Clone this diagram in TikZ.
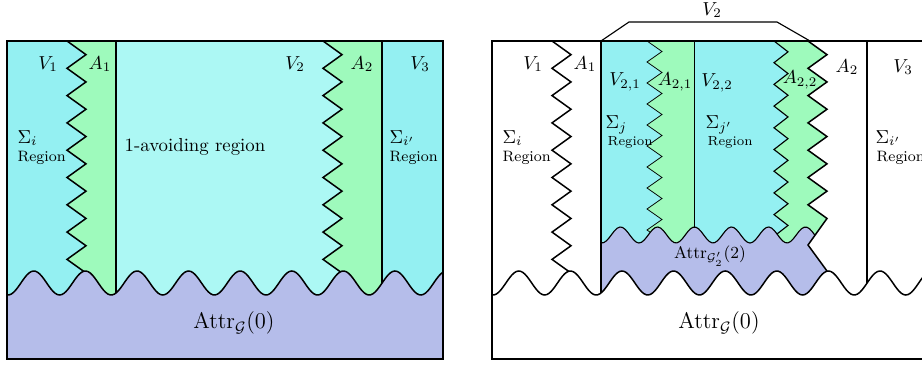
\documentclass[tikz,border=0pt]{standalone}
\usepackage{amsmath}
\usepackage{amssymb}
\usepackage{tikz}
\definecolor{vregion}{RGB}{148,240,242}
\definecolor{avoidregion}{RGB}{172,248,244}
\definecolor{aregion}{RGB}{158,250,188}
\definecolor{attrregion}{RGB}{181,189,234}
\newcommand{\vtwoshape}{(601,41) -- (808,41)
    \foreach \k in {0,...,5} { -- (827,{54.65+27.3*\k}) -- (808,{68.3+27.3*\k}) }
    -- (827,218.45) -- (808,245) -- (601,260) -- cycle}

\begin{document}
\begin{tikzpicture}[x=0.532pt, y=-0.532pt]
    \useasboundingbox (0,0) rectangle (922,367);

    % ===== Left panel =====
    % Regions
    \fill[vregion] (7,41) rectangle (443,359);
    \fill[aregion] (67,41) \foreach \k in {0,...,7} { -- (86,{54.65+27.3*\k}) -- (67,{68.3+27.3*\k}) }
        -- (86,273) -- (86,300) -- (116,300) -- (116,41) -- cycle;
    \fill[avoidregion] (116,41) -- (323,41) \foreach \k in {0,...,7} { -- (342,{54.65+27.3*\k}) -- (323,{68.3+27.3*\k}) }
        -- (342,273) -- (342,300) -- (116,300) -- cycle;
    \fill[aregion] (323,41) \foreach \k in {0,...,7} { -- (342,{54.65+27.3*\k}) -- (323,{68.3+27.3*\k}) }
        -- (342,273) -- (342,300) -- (382,300) -- (382,41) -- cycle;

    % Borders of the A regions
    \draw[thick] (67,41) \foreach \k in {0,...,7} { -- (86,{54.65+27.3*\k}) -- (67,{68.3+27.3*\k}) } -- (86,273);
    \draw[thick] (323,41) \foreach \k in {0,...,7} { -- (342,{54.65+27.3*\k}) -- (323,{68.3+27.3*\k}) } -- (342,273);
    \draw[thick] (116,41) -- (116,300);
    \draw[thick] (382,41) -- (382,300);

    % Attractor of 0
    \fill[attrregion] (7,359) -- plot[domain=7:443, samples=200] (\x,{283+12*cos((\x-8)/51.6*360)}) -- (443,359) -- cycle;
    \draw[thick] plot[domain=7:443, samples=200] (\x,{283+12*cos((\x-8)/51.6*360)});
    \draw[thick] (7,41) rectangle (443,359);

    % Labels
    \node (v1l) at (48,64) {$V_1$};
    \node (a1l) at (100,64) {$A_1$};
    \node (v2l) at (295,64) {$V_2$};
    \node (a2l) at (362,64) {$A_2$};
    \node (v3l) at (420,64) {$V_3$};
    \node[anchor=west] (sigl) at (11,138) {$\Sigma_i$};
    \node[anchor=west, font=\footnotesize] (regl) at (11,158) {Region};
    \node[anchor=west] (sigpl) at (383,138) {$\Sigma_{i'}$};
    \node[anchor=west, font=\footnotesize] (regpl) at (383,158) {Region};
    \node (avoid) at (195,147) {1-avoiding region};
    \node[font=\large] (attrl) at (234,323) {$\mathrm{Attr}_{\mathcal{G}}(0)$};

    % ===== Right panel =====
    % V_2 split into V_{2,1}, A_{2,1}, V_{2,2}, A_{2,2}
    \fill[vregion] \vtwoshape;
    \begin{scope}
        \clip \vtwoshape;
        \fill[aregion] (647,41) \foreach \k in {0,...,9} { -- (662,{51.5+21*\k}) -- (647,{62+21*\k}) }
            -- (694,300) -- (694,41) -- cycle;
        \fill[aregion] (774,41) \foreach \k in {0,...,9} { -- (788,{51.85+21.7*\k}) -- (774,{62.7+21.7*\k}) }
            -- (900,300) -- (900,41) -- cycle;
    \end{scope}
    \draw[thin] (647,41) \foreach \k in {0,...,9} { -- (662,{51.5+21*\k}) -- (647,{62+21*\k}) };
    \draw[thin] (694,41) -- (694,250);
    \draw[semithick] (774,41) \foreach \k in {0,...,9} { -- (788,{51.85+21.7*\k}) -- (774,{62.7+21.7*\k}) };

    % Attractor of 2 in G'_2
    \fill[attrregion] plot[domain=601:815, samples=80] (\x,{235+8*cos((\x-602)/37*360)})
        -- (808,245) -- (827,271)
        -- plot[domain=827:601, samples=80] (\x,{283+12*cos((\x-493)/51.6*360)}) -- cycle;
    \draw[semithick] plot[domain=601:815, samples=80] (\x,{235+8*cos((\x-602)/37*360)});

    % Borders
    \draw[thick] (552,41) \foreach \k in {0,...,7} { -- (571,{54.65+27.3*\k}) -- (552,{68.3+27.3*\k}) } -- (571,273);
    \draw[thick] (808,41) \foreach \k in {0,...,5} { -- (827,{54.65+27.3*\k}) -- (808,{68.3+27.3*\k}) }
        -- (827,218.45) -- (808,245) -- (827,271);
    \draw[semithick] (601,41) -- (601,300);
    \draw[thick] (867,41) -- (867,300);

    % Attractor of 0
    \fill[white] (492,359) -- plot[domain=492:930, samples=200] (\x,{283+12*cos((\x-493)/51.6*360)}) -- (930,359) -- cycle;
    \draw[thick] plot[domain=492:930, samples=200] (\x,{283+12*cos((\x-493)/51.6*360)});
    \draw[thick] (492,41) rectangle (928,359);

    % Bracket over V_2
    \draw[semithick] (601,41) -- (629,22) -- (777,22) -- (810,41);

    % Labels
    \node (v2top) at (712,10) {$V_2$};
    \node (v1r) at (533,64) {$V_1$};
    \node (a1r) at (585,64) {$A_1$};
    \node (v21) at (625,82) {$V_{2,1}$};
    \node (a21) at (675,82) {$A_{2,1}$};
    \node (v22) at (717,83) {$V_{2,2}$};
    \node (a22) at (800,80) {$A_{2,2}$};
    \node (a2r) at (847,67) {$A_2$};
    \node (v3r) at (903,67) {$V_3$};
    \node[anchor=west] (sigr) at (496,138) {$\Sigma_i$};
    \node[anchor=west, font=\footnotesize] (regr) at (496,158) {Region};
    \node[anchor=west] (sigj) at (599,125) {$\Sigma_j$};
    \node[anchor=west, font=\scriptsize] (regj) at (601,142) {Region};
    \node[anchor=west] (sigjp) at (699,125) {$\Sigma_{j'}$};
    \node[anchor=west, font=\scriptsize] (regjp) at (701,142) {Region};
    \node[anchor=west] (sigpr) at (869,138) {$\Sigma_{i'}$};
    \node[anchor=west, font=\footnotesize] (regpr) at (870,158) {Region};
    \node[font=\small] (attr2) at (710,256) {$\mathrm{Attr}_{\mathcal{G}'_2}(2)$};
    \node[font=\large] (attrr) at (719,323) {$\mathrm{Attr}_{\mathcal{G}}(0)$};
\end{tikzpicture}
\end{document}
